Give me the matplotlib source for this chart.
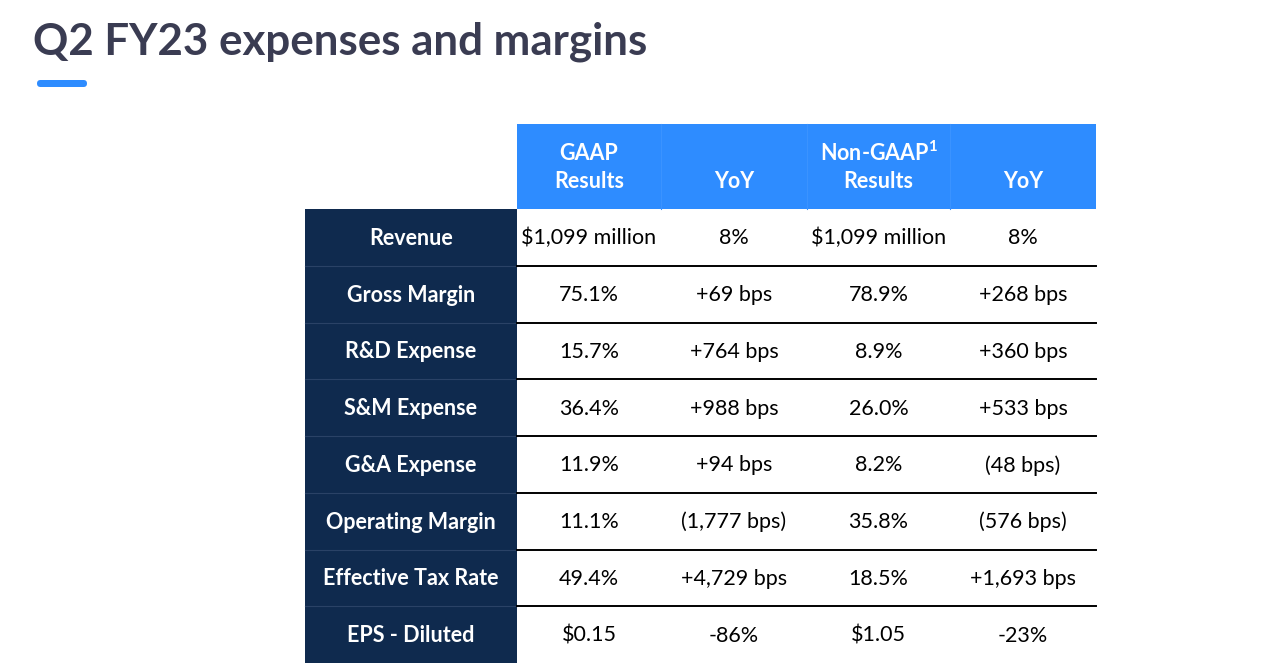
import matplotlib
matplotlib.use("Agg")
import matplotlib.pyplot as plt
from matplotlib.patches import Rectangle, FancyBboxPatch

plt.rcParams["mathtext.fontset"] = "custom"
plt.rcParams["mathtext.rm"] = "Lato"
plt.rcParams["mathtext.bf"] = "Lato:bold"

title = "Q2 FY23 expenses and margins"
header_top = ["GAAP", "", r"Non-GAAP$^{\mathbf{1}}$", ""]
header_bottom = ["Results", "YoY", "Results", "YoY"]
row_labels = ["Revenue", "Gross Margin", "R&D Expense", "S&M Expense",
              "G&A Expense", "Operating Margin", "Effective Tax Rate", "EPS - Diluted"]
gaap = ["$1,099 million", "75.1%", "15.7%", "36.4%", "11.9%", "11.1%", "49.4%", "$0.15"]
gaap_yoy = ["8%", "+69 bps", "+764 bps", "+988 bps", "+94 bps", "(1,777 bps)", "+4,729 bps", "-86%"]
nongaap = ["$1,099 million", "78.9%", "8.9%", "26.0%", "8.2%", "35.8%", "18.5%", "$1.05"]
nongaap_yoy = ["8%", "+268 bps", "+360 bps", "+533 bps", "(48 bps)", "(576 bps)", "+1,693 bps", "-23%"]

FAM = ["Lato", "DejaVu Sans"]
NAVY = "#0f2a4e"
BLUE = "#2e8cff"
TITLE_C = "#3a3c52"

fig = plt.figure(figsize=(12.8, 6.72), dpi=100)
ax = fig.add_axes([0, 0, 1, 1])
ax.set_xlim(0, 1280)
ax.set_ylim(672, 0)
ax.axis("off")

# title
ax.text(33, 42, title, fontsize=31.6, fontweight="bold", color=TITLE_C,
        family=FAM, va="center", ha="left")
ax.add_patch(FancyBboxPatch((37, 80), 50, 7, boxstyle="round,pad=0,rounding_size=3.5",
                            color=BLUE, lw=0))

# geometry
col_x = [305, 517, 661, 807, 950, 1096]
head_top, head_bot = 124, 209
n = len(row_labels)
row_h = (663 - head_bot) / n

# header
ax.add_patch(Rectangle((col_x[1], head_top), col_x[-1] - col_x[1], head_bot - head_top,
                       color=BLUE, lw=0))
for i in range(4):
    cx = (col_x[i + 1] + col_x[i + 2]) / 2
    if i > 0:
        ax.plot([col_x[i + 1]] * 2, [head_top, head_bot], color="#3b93ff", lw=0.8)
    if header_top[i]:
        ax.text(cx, 153, header_top[i], fontsize=15.5, fontweight="bold", color="white",
                family=FAM, ha="center", va="center")
    ax.text(cx, 182, header_bottom[i], fontsize=15.5, fontweight="bold", color="white",
            family=FAM, ha="center", va="center")

# label column
ax.add_patch(Rectangle((col_x[0], head_bot), col_x[1] - col_x[0], n * row_h,
                       color=NAVY, lw=0))
cols = [gaap, gaap_yoy, nongaap, nongaap_yoy]
for r in range(n):
    y0 = head_bot + r * row_h
    cy = y0 + row_h / 2 + 1
    if r > 0:
        ax.plot([col_x[0], col_x[1]], [y0, y0], color="#2a4266", lw=0.8)
        ax.plot([col_x[1], col_x[-1]], [y0, y0], color="black", lw=1.4)
    ax.text((col_x[0] + col_x[1]) / 2, cy, row_labels[r], fontsize=15.5, fontweight="bold",
            color="white", family=FAM, ha="center", va="center")
    for c in range(4):
        ax.text((col_x[c + 1] + col_x[c + 2]) / 2, cy, cols[c][r], fontsize=15.5,
                color="black", family=FAM, ha="center", va="center")

fig.savefig("out.png", dpi=100)
